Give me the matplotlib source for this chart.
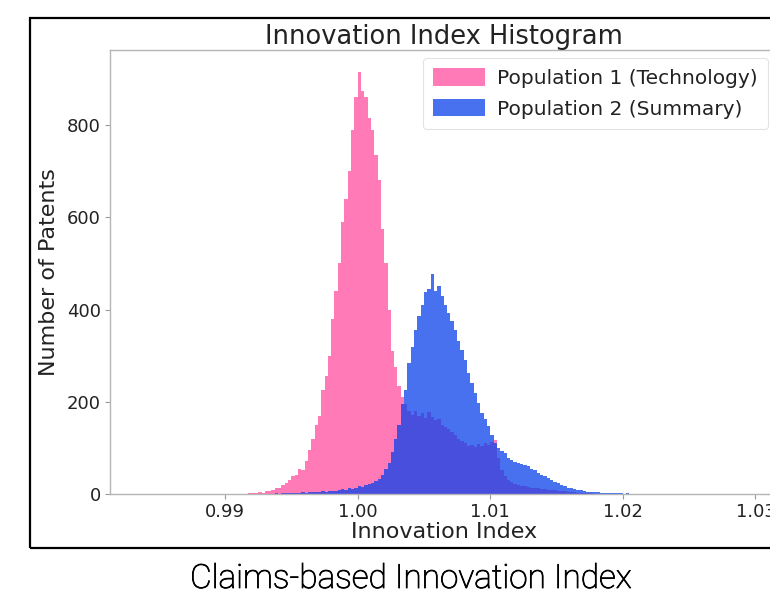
import numpy as np
import matplotlib
matplotlib.use("Agg")
import matplotlib.pyplot as plt
from matplotlib import font_manager
from matplotlib.patches import Rectangle
import matplotlib.patheffects as pe

# ---------------- data ----------------
bin_start = 0.9915
bin_width = 0.00025

pop1_counts = [
    1, 2, 2, 3, 4, 3, 6, 7, 9, 13,
    12, 19, 24, 30, 38, 41, 55, 52, 72, 95,
    120, 150, 170, 225, 255, 300, 380, 440, 500, 590,
    640, 700, 790, 860, 915, 875, 860, 815, 790, 735,
    680, 575, 500, 400, 310, 275, 235, 210, 195, 180,
    172, 181, 170, 176, 165, 178, 168, 160, 163, 150,
    146, 140, 135, 128, 120, 114, 110, 104, 106, 102,
    108, 104, 111, 106, 113, 118, 78, 52, 38, 30,
    26, 22, 20, 18, 17, 15, 14, 13, 12, 11,
    10, 9, 9, 8, 7, 7, 6, 5, 4, 4,
    3, 3, 2, 2, 2, 1, 1, 1, 0, 1,
    0, 0, 1, 0, 0, 0, 0, 0, 0, 0,
    0, 0, 0, 0, 0, 0, 0, 0, 0, 0,
]

pop2_counts = [
    0, 0, 1, 0, 1, 1, 0, 1, 1, 2,
    1, 2, 2, 3, 2, 3, 3, 4, 3, 4,
    5, 4, 5, 6, 5, 6, 7, 6, 8, 10,
    9, 12, 11, 14, 17, 16, 20, 22, 24, 28,
    32, 42, 55, 68, 92, 120, 150, 195, 225, 285,
    318, 355, 385, 410, 438, 445, 478, 440, 452, 430,
    410, 392, 375, 355, 332, 312, 290, 262, 240, 218,
    198, 176, 162, 148, 128, 110, 100, 94, 88, 78,
    74, 70, 68, 65, 62, 60, 55, 52, 46, 42,
    38, 34, 30, 27, 23, 20, 17, 14, 12, 10,
    9, 8, 6, 5, 5, 4, 4, 3, 3, 3,
    2, 3, 2, 2, 1, 2, 1, 1, 1, 0,
    1, 0, 1, 0, 0, 1, 0, 0, 1, 0,
]

series_labels = ["Population 1 (Technology)", "Population 2 (Summary)"]
x_ticks = [0.99, 1.00, 1.01, 1.02, 1.03]
y_ticks = [0, 200, 400, 600, 800]
title = "Innovation Index Histogram"
x_label = "Innovation Index"
y_label = "Number of Patents"
caption = "Claims-based Innovation Index"

# ---------------- figure ----------------
n_bins = len(pop1_counts)
edges = bin_start + bin_width * np.arange(n_bins + 1)
centers = 0.5 * (edges[:-1] + edges[1:])

W, H = 770, 602
fig = plt.figure(figsize=(W / 100, H / 100), dpi=100)

def px_box(l, t, r, b):
    return [l / W, 1 - b / H, (r - l) / W, (b - t) / H]

ax = fig.add_axes(px_box(110, 50, 778, 494))

pink = "#ff7ab6"
blue = "#0a41eb"
ax.hist(centers, bins=edges, weights=pop1_counts, color=pink,
        label=series_labels[0], linewidth=0)
ax.hist(centers, bins=edges, weights=pop2_counts, color=blue, alpha=0.75,
        label=series_labels[1], linewidth=0)

ax.set_xlim(0.98132, 1.0317)
ax.set_ylim(0, 963)
ax.set_xticks(x_ticks)
ax.set_xticklabels([f"{v:.2f}" for v in x_ticks])
ax.set_yticks(y_ticks)

txt = "#222222"
for s in ax.spines.values():
    s.set_color("#b5b5b5")
    s.set_linewidth(1.0)
ax.tick_params(axis="both", colors="#9a9a9a", labelcolor=txt,
               labelsize=13, length=3.5, width=0.8, pad=3)

ax.set_title(title, fontsize=18.5, color=txt, pad=3.5)
ax.set_xlabel(x_label, fontsize=16, color=txt, labelpad=1)
ax.set_ylabel(y_label, fontsize=16, color=txt, labelpad=6)

leg = ax.legend(loc="upper right", fontsize=14.5, frameon=True,
                handlelength=2.6, handleheight=0.95, borderpad=0.5,
                labelspacing=0.55, handletextpad=0.6,
                bbox_to_anchor=(1.0, 1.004))
leg.get_frame().set_edgecolor("#dddddd")
leg.get_frame().set_linewidth(0.8)
for t in leg.get_texts():
    t.set_color(txt)

# black frame around the screenshot
frame = Rectangle((30 / W, 1 - 548 / H), (800 - 30) / W, (548 - 18) / H,
                  transform=fig.transFigure, fill=False, edgecolor="black",
                  linewidth=1.6, clip_on=False)
fig.patches.append(frame)

# caption font
avail = {f.name for f in font_manager.fontManager.ttflist}
cap_font = next((f for f in ["Roboto", "Lato", "Open Sans", "DejaVu Sans"] if f in avail), "DejaVu Sans")
fig.text(411 / W, 1 - 579 / H, caption, ha="center", va="center",
         fontsize=24, family=cap_font, fontweight="light", color="black",
         path_effects=[pe.withStroke(linewidth=0.6, foreground="black")])

fig.savefig("out.png", dpi=100)
